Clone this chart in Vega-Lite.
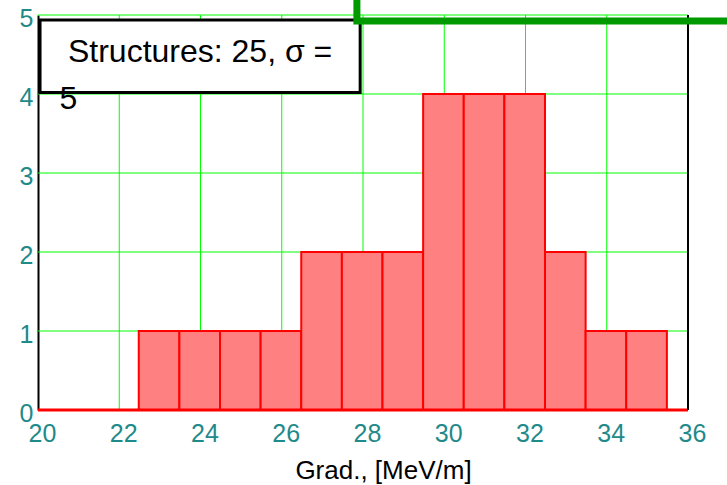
{
  "$schema": "https://vega.github.io/schema/vega-lite/v6.json",
  "width": 650,
  "height": 395,
  "padding": {"left": 38, "top": 15, "right": 39, "bottom": 75},
  "autosize": {"type": "none"},
  "background": "white",
  "config": {
    "view": {"stroke": null},
    "font": "Liberation Sans",
    "axis": {"grid": false}
  },
  "datasets": {
    "bins": [
      {"lo": 22.48, "hi": 23.48, "count": 1},
      {"lo": 23.48, "hi": 24.48, "count": 1},
      {"lo": 24.48, "hi": 25.48, "count": 1},
      {"lo": 25.48, "hi": 26.48, "count": 1},
      {"lo": 26.48, "hi": 27.48, "count": 2},
      {"lo": 27.48, "hi": 28.48, "count": 2},
      {"lo": 28.48, "hi": 29.48, "count": 2},
      {"lo": 29.48, "hi": 30.48, "count": 4},
      {"lo": 30.48, "hi": 31.48, "count": 4},
      {"lo": 31.48, "hi": 32.48, "count": 4},
      {"lo": 32.48, "hi": 33.48, "count": 2},
      {"lo": 33.48, "hi": 34.48, "count": 1},
      {"lo": 34.48, "hi": 35.48, "count": 1}
    ],
    "gridx": [{"gx": 22}, {"gx": 24}, {"gx": 26}, {"gx": 28}, {"gx": 30}, {"gx": 32}, {"gx": 34}],
    "gridy": [{"gy": 1}, {"gy": 2}, {"gy": 3}, {"gy": 4}, {"gy": 5}],
    "box": [{"x1": 20.05, "x2": 27.93, "y1": 4.019, "y2": 4.937}],
    "greenbox": [{"x1": 27.85, "x2": 40, "y1": 4.925, "y2": 6}],
    "labels": [
      {"x": 23.99, "y": 4.405, "t": "Structures: 25, σ ="},
      {"x": 20.75, "y": 3.81, "t": "5"}
    ],
    "base": [{"x1": 20, "x2": 36, "y": 0}],
    "frame": [{"x": 36, "y1": 0, "y2": 5}]
  },
  "layer": [
    {
      "data": {"name": "gridx"},
      "mark": {"type": "rule", "color": "#00ff00", "strokeWidth": 1},
      "encoding": {
        "x": {
          "field": "gx", "type": "quantitative",
          "scale": {"domain": [20, 36], "nice": false, "zero": false},
          "axis": {
            "values": [20, 22, 24, 26, 28, 30, 32, 34, 36],
            "title": "Grad., [MeV/m]",
            "titleFontSize": 26,
            "titleFontWeight": "normal",
            "titleColor": "#000000",
            "titleX": 345,
            "titleY": 68,
            "titleBaseline": "alphabetic",
            "titleAnchor": "middle",
            "labelFontSize": 25,
            "labelColor": "#1f8a8a",
            "labelBaseline": "alphabetic",
            "labelPadding": 31,
            "labelOffset": 4,
            "labelFlush": false,
            "labelOverlap": false,
            "ticks": false,
            "tickSize": 0,
            "domain": false,
            "grid": false,
            "format": "d"
          }
        },
        "y": {"datum": 0, "type": "quantitative"},
        "y2": {"datum": 5}
      }
    },
    {
      "data": {"name": "gridy"},
      "mark": {"type": "rule", "color": "#00ff00", "strokeWidth": 1},
      "encoding": {
        "y": {
          "field": "gy", "type": "quantitative",
          "scale": {"domain": [0, 5], "nice": false},
          "axis": {
            "values": [0, 1, 2, 3, 4, 5],
            "title": null,
            "labelFontSize": 25,
            "labelColor": "#1f8a8a",
            "labelPadding": 5,
            "labelOffset": 3,
            "labelFlush": false,
            "labelOverlap": false,
            "ticks": false,
            "tickSize": 0,
            "domain": true,
            "domainColor": "#000000",
            "domainWidth": 2,
            "grid": false,
            "format": "d"
          }
        },
        "x": {"datum": 20, "type": "quantitative"},
        "x2": {"datum": 36}
      }
    },
    {
      "data": {"name": "bins"},
      "mark": {"type": "rect", "fill": "#ff8080", "stroke": "#ff0000", "strokeWidth": 2},
      "encoding": {
        "x": {"field": "lo", "type": "quantitative"},
        "x2": {"field": "hi"},
        "y": {"field": "count", "type": "quantitative"},
        "y2": {"datum": 0}
      }
    },
    {
      "data": {"name": "base"},
      "mark": {"type": "rule", "color": "#ff0000", "strokeWidth": 3},
      "encoding": {
        "x": {"field": "x1", "type": "quantitative"},
        "x2": {"field": "x2"},
        "y": {"field": "y", "type": "quantitative"}
      }
    },
    {
      "data": {"name": "frame"},
      "mark": {"type": "rule", "color": "#000000", "strokeWidth": 2},
      "encoding": {
        "x": {"field": "x", "type": "quantitative"},
        "y": {"field": "y1", "type": "quantitative"},
        "y2": {"field": "y2"}
      }
    },
    {
      "data": {"name": "box"},
      "mark": {"type": "rect", "fill": "#ffffff", "stroke": "#000000", "strokeWidth": 3},
      "encoding": {
        "x": {"field": "x1", "type": "quantitative"},
        "x2": {"field": "x2"},
        "y": {"field": "y1", "type": "quantitative"},
        "y2": {"field": "y2"}
      }
    },
    {
      "data": {"name": "greenbox"},
      "mark": {"type": "rect", "fill": null, "fillOpacity": 0, "stroke": "#009a00", "strokeWidth": 7, "clip": false},
      "encoding": {
        "x": {"field": "x1", "type": "quantitative"},
        "x2": {"field": "x2"},
        "y": {"field": "y1", "type": "quantitative"},
        "y2": {"field": "y2"}
      }
    },
    {
      "data": {"name": "labels"},
      "mark": {"type": "text", "fontSize": 32, "color": "#000000", "align": "center", "baseline": "alphabetic"},
      "encoding": {
        "x": {"field": "x", "type": "quantitative"},
        "y": {"field": "y", "type": "quantitative"},
        "text": {"field": "t"}
      }
    }
  ]
}
